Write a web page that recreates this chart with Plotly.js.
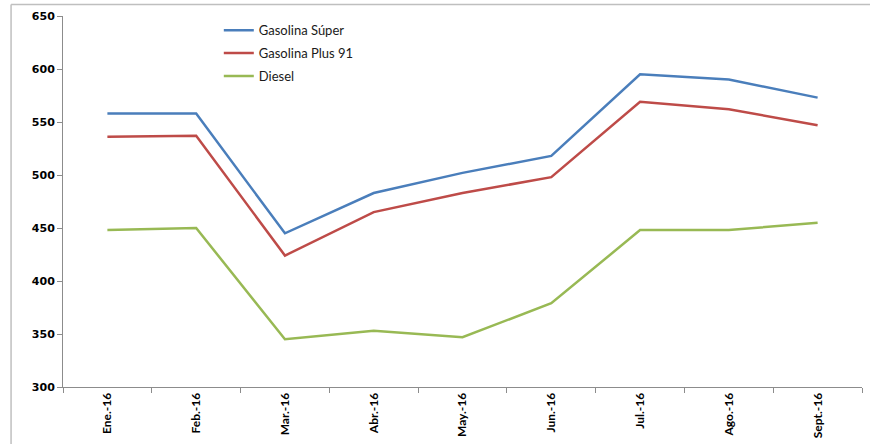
<!DOCTYPE html>
<html>
<head>
<meta charset="utf-8">
<script src="https://cdn.plot.ly/plotly-3.0.1.min.js"></script>
<style>
  html, body { margin: 0; padding: 0; background: #ffffff; }
  #chart { width: 870px; height: 444px; }
</style>
</head>
<body>
<div id="chart"></div>
<script>
// Monthly fuel prices, January to September 2016
const months = ['Ene.-16', 'Feb.-16', 'Mar.-16', 'Abr.-16', 'May.-16', 'Jun.-16', 'Jul.-16', 'Ago.-16', 'Sept.-16'];
const gasolinaSuper = [558, 558, 445, 483, 502, 518, 595, 590, 573];
const gasolinaPlus91 = [536, 537, 424, 465, 483, 498, 569, 562, 547];
const diesel = [448, 450, 345, 353, 347, 379, 448, 448, 455];
const seriesNames = ['Gasolina Súper', 'Gasolina Plus 91', 'Diesel'];
const seriesColors = ['#4A7EBB', '#BE4B48', '#98B954'];

const seriesValues = [gasolinaSuper, gasolinaPlus91, diesel];
const traces = seriesValues.map((vals, i) => ({
  type: 'scatter',
  mode: 'lines',
  x: months,
  y: vals,
  name: seriesNames[i],
  legendgroup: 'g' + i,
  line: { color: seriesColors[i], width: 2.5 },
  hoverinfo: 'x+y+name'
}));

const axisGray = '#8C8C8C';

const layout = {
  width: 870,
  height: 444,
  margin: { l: 63, r: 8, t: 16, b: 57 },
  paper_bgcolor: '#ffffff',
  plot_bgcolor: '#ffffff',
  showlegend: true,
  legend: {
    x: 0.195, y: 1.002, xanchor: 'left', yanchor: 'top',
    bgcolor: 'rgba(0,0,0,0)',
    font: { family: 'Lato, "Open Sans", sans-serif', size: 13, color: '#1a1a1a' },
    tracegroupgap: 3,
    itemwidth: 30
  },
  xaxis: {
    type: 'category',
    showgrid: false,
    zeroline: false,
    showline: true,
    linecolor: axisGray,
    linewidth: 1,
    ticks: 'outside',
    tickson: 'boundaries',
    ticklen: 5,
    tickcolor: axisGray,
    tickangle: -90,
    tickfont: { family: 'Lato, "Open Sans", sans-serif', size: 12, weight: 'bold', color: '#000000' },
    range: [-0.5, 8.5],
    fixedrange: true
  },
  yaxis: {
    range: [300, 650],
    dtick: 50,
    tick0: 300,
    showgrid: false,
    zeroline: false,
    showline: true,
    linecolor: axisGray,
    linewidth: 1,
    ticks: 'outside',
    ticklen: 5,
    tickcolor: axisGray,
    tickfont: { family: '"DejaVu Sans", Verdana, sans-serif', size: 11, weight: 'bold', color: '#000000' },
    fixedrange: true
  },
  shapes: [
    // outer chart frame (left and top edges visible)
    {
      type: 'line', xref: 'paper', yref: 'paper',
      x0: -0.065, x1: -0.065, y0: -0.2, y1: 1.031,
      line: { color: '#BFBFBF', width: 1.5 }
    },
    {
      type: 'line', xref: 'paper', yref: 'paper',
      x0: -0.065, x1: 1.02, y0: 1.031, y1: 1.031,
      line: { color: '#BFBFBF', width: 1.5 }
    }
  ]
};

Plotly.newPlot('chart', traces, layout, { displayModeBar: false, staticPlot: true });
</script>
</body>
</html>
